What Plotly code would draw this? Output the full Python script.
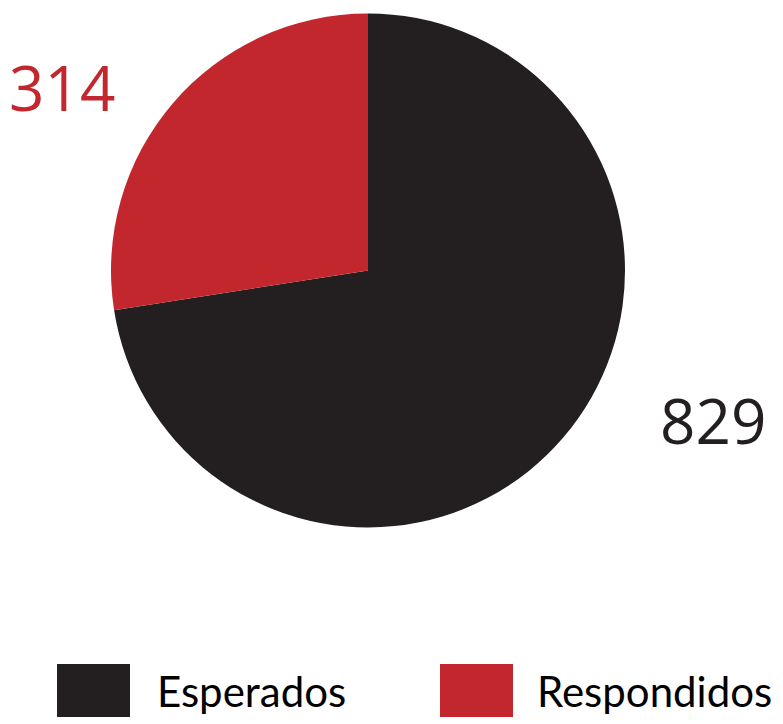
import plotly.graph_objects as go

labels = ["Esperados", "Respondidos"]
values = [829, 314]
colors = ["#231f20", "#c1272d"]

W, H = 783, 724
OFF = 8  # page body margin offset


def px_x(x):
    return (x - OFF) / W


def px_y(y):
    return 1 - (y - OFF) / H


fig = go.Figure()
fig.add_trace(go.Pie(
    labels=labels, values=values, sort=False, direction="clockwise", rotation=0,
    marker=dict(colors=colors, line=dict(width=0)),
    textinfo="none", hoverinfo="label+value", showlegend=False,
    domain=dict(x=[px_x(111), px_x(625)], y=[px_y(528), px_y(13)]),
))

# value labels
label_pos = [(713, 420), (62, 87)]
for v, c, (px, py) in zip(values, colors, label_pos):
    fig.add_annotation(x=px_x(px), y=px_y(py), xref="paper", yref="paper",
                       text=str(v), showarrow=False, xanchor="center", yanchor="middle",
                       font=dict(family="Open Sans", size=62, color=c))

# custom legend
leg = [(57, 155), (440, 535)]
for lab, c, (sx, tx) in zip(labels, colors, leg):
    fig.add_shape(type="rect", xref="paper", yref="paper",
                  x0=px_x(sx), x1=px_x(sx + 73), y0=px_y(717), y1=px_y(664),
                  fillcolor=c, line=dict(width=0))
    fig.add_annotation(x=px_x(tx), y=px_y(691), xref="paper", yref="paper",
                       text=lab, showarrow=False, xanchor="left", yanchor="middle",
                       font=dict(family="Lato", size=42, color="#000000"))

fig.update_layout(width=W, height=H, margin=dict(l=0, r=0, t=0, b=0),
                  paper_bgcolor="white", plot_bgcolor="white")
fig.write_html("out.html")
